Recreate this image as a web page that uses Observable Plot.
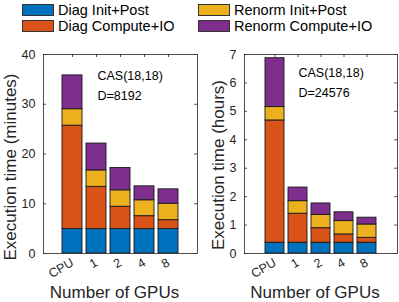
<!DOCTYPE html>
<html>
<head>
<meta charset="utf-8">
<script src="https://cdn.jsdelivr.net/npm/d3@7"></script>
<script src="https://cdn.jsdelivr.net/npm/@observablehq/plot@0.6"></script>
<style>
  html, body { margin: 0; padding: 0; background: #fff; }
  body { width: 399px; height: 302px; position: relative; overflow: hidden;
         font-family: "Liberation Sans", Arial, Helvetica, sans-serif; }
  #legend { position: absolute; left: 0; top: 0; width: 399px; height: 38px; }
  .item { position: absolute; display: flex; align-items: center; font-size: 14.5px; color: #000; white-space: nowrap; height: 13px; }
  .sw { width: 32px; height: 12px; box-sizing: border-box; border: 1px solid #333; margin-right: 4px; }
  #charts { position: absolute; left: 0; top: 38px; display: flex; }
</style>
</head>
<body>
<div id="legend"></div>
<div id="charts"></div>
<script>
const gpus = ["CPU", "1", "2", "4", "8"];
const components = ["Diag Init+Post", "Diag Compute+IO", "Renorm Init+Post", "Renorm Compute+IO"];
const colors = ["#0072BD", "#D95319", "#EDB120", "#7E2F8E"];

// Left panel: minutes
const diagInitMin = [4.9, 4.9, 4.9, 4.9, 4.9];
const diagCompMin = [20.8, 8.5, 4.5, 2.6, 1.8];
const renInitMin  = [3.3, 3.3, 3.3, 3.2, 3.3];
const renCompMin  = [6.8, 5.4, 4.5, 2.8, 2.9];
const yTicksMin = [0, 10, 20, 30, 40];
const annotMin = ["CAS(18,18)", "D=8192"];

// Right panel: hours
const diagInitHr = [0.38, 0.38, 0.38, 0.38, 0.38];
const diagCompHr = [4.30, 1.02, 0.51, 0.29, 0.17];
const renInitHr  = [0.47, 0.44, 0.47, 0.47, 0.47];
const renCompHr  = [1.72, 0.48, 0.40, 0.31, 0.24];
const yTicksHr = [0, 1, 2, 3, 4, 5, 6, 7];
const annotHr = ["CAS(18,18)", "D=24576"];

const xLabel = "Number of GPUs";
const yLabelMin = "Execution time (minutes)";
const yLabelHr = "Execution time (hours)";

// Legend
const legend = document.getElementById("legend");
const legPos = [[22, 3], [22, 19.5], [198, 3], [198, 19.5]];
components.forEach((c, i) => {
  const d = document.createElement("div");
  d.className = "item";
  d.style.left = legPos[i][0] + "px";
  d.style.top = legPos[i][1] + "px";
  d.innerHTML = `<div class="sw" style="background:${colors[i]}"></div><span>${c}</span>`;
  legend.appendChild(d);
});

function makeRows(series) {
  const rows = [];
  gpus.forEach((g, j) => {
    series.forEach((s, i) => rows.push({gpu: g, comp: components[i], value: s[j]}));
  });
  return rows;
}

function panel({rows, yMax, yTicks, yLabel, annot, width, marginLeft, marginRight, ylDx, ylDy, annDy}) {
  const height = 264, marginTop = 16, marginBottom = 49;
  const fw = width - marginLeft - marginRight;
  const fh = height - marginTop - marginBottom;
  const axisColor = "#262626";
  const marks = [
    Plot.barY(rows, {x: "gpu", y: "value", fill: "comp", stroke: "#1a1a1a", strokeWidth: 0.9, order: null}),
    Plot.frame({stroke: axisColor, strokeWidth: 0.8}),
    // inward ticks on four sides
    Plot.tickY(yTicks, {y: d => d, insetRight: fw - 3, stroke: axisColor, strokeWidth: 0.8}),
    Plot.tickY(yTicks, {y: d => d, insetLeft: fw - 3, stroke: axisColor, strokeWidth: 0.8}),
    Plot.tickX(gpus, {x: d => d, insetBottom: fh - 3, stroke: axisColor, strokeWidth: 0.8}),
    Plot.axisY({ticks: yTicks, tickFormat: d => String(d), tickSize: 0, tickPadding: 8, fontSize: 12.5, label: null}),
    Plot.axisX({tickSize: 0, tickRotate: -30, tickPadding: 8, fontSize: 12.5, label: null}),
    Plot.text([yLabel], {frameAnchor: "left", rotate: -90, dx: ylDx, dy: ylDy, fontSize: 17, lineAnchor: "middle", textAnchor: "middle", fill: axisColor}),
    Plot.text([xLabel], {frameAnchor: "bottom", dx: -6, dy: 39, fontSize: 17, lineAnchor: "middle", textAnchor: "middle", fill: axisColor})
  ];
  annot.forEach((t, i) => marks.push(
    Plot.text([t], {frameAnchor: "top-left", dx: 54, dy: annDy + 20 * i, fontSize: 12.5, textAnchor: "start", lineAnchor: "middle", fill: "#000"})
  ));
  return Plot.plot({
    width, height, marginLeft, marginRight, marginTop, marginBottom,
    style: {fontFamily: "'Liberation Sans', Arial, Helvetica, sans-serif", color: axisColor, background: "#fff"},
    x: {domain: gpus, paddingInner: 0.17, paddingOuter: 0.79, axis: null},
    y: {domain: [0, yMax], axis: null},
    color: {domain: components, range: colors},
    marks
  });
}

const charts = document.getElementById("charts");
charts.appendChild(panel({
  rows: makeRows([diagInitMin, diagCompMin, renInitMin, renCompMin]),
  yMax: 40, yTicks: yTicksMin, yLabel: yLabelMin, annot: annotMin,
  width: 200, marginLeft: 43, marginRight: 3, ylDx: -33, ylDy: 13, annDy: 21
}));
charts.appendChild(panel({
  rows: makeRows([diagInitHr, diagCompHr, renInitHr, renCompHr]),
  yMax: 7, yTicks: yTicksHr, yLabel: yLabelHr, annot: annotHr,
  width: 199, marginLeft: 44, marginRight: 2, ylDx: -26, ylDy: 11, annDy: 18
}));
</script>
</body>
</html>
